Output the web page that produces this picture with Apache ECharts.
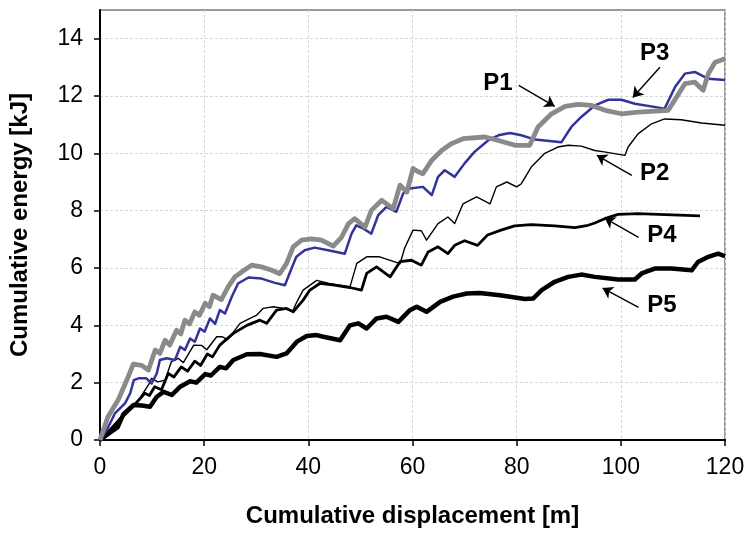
<!DOCTYPE html>
<html>
<head>
<meta charset="utf-8">
<script src="https://cdn.jsdelivr.net/npm/echarts@6/dist/echarts.min.js"></script>
<style>
    html, body { margin: 0; padding: 0; background: #fff; }
    #energyChart { width: 750px; height: 539px; }
</style>
</head>
<body>
<div id="energyChart"></div>
<script>
// cumulative energy vs displacement, five piles
const xTicks = [0, 20, 40, 60, 80, 100, 120];
const yTicks = [0, 2, 4, 6, 8, 10, 12, 14];

const p1 = [[0, 0], [1.5, 0.8], [3.5, 1.4], [5.4, 2.2], [6.4, 2.65], [8, 2.6], [9.3, 2.44],
    [10.6, 3.14], [11.5, 3.02], [12.5, 3.48], [13.4, 3.31], [14.7, 3.83], [15.5, 3.7],
    [16.3, 4.18], [17.2, 4.05], [18.2, 4.47], [19.1, 4.35], [20.2, 4.77], [21, 4.65],
    [21.7, 5.05], [23.3, 4.9], [24.6, 5.34], [25.9, 5.69], [27.2, 5.86], [29.1, 6.1],
    [31, 6.04], [33, 5.92], [34.5, 5.8], [35.8, 6.15], [37.1, 6.74], [38.7, 6.97],
    [40.6, 7.02], [42.5, 6.97], [44.8, 6.76], [46.4, 7.08], [47.7, 7.55], [48.9, 7.72],
    [50.9, 7.43], [52.1, 8.01], [54.1, 8.36], [56.3, 8.07], [57.6, 8.89], [58.9, 8.65],
    [60.1, 9.47], [61.1, 9.36], [62, 9.29], [63.7, 9.76], [65.6, 10.1], [67.5, 10.34],
    [69.7, 10.51], [73.9, 10.57], [76.5, 10.45], [79.7, 10.28], [82.5, 10.28], [84.1, 10.92],
    [86.7, 11.38], [89.3, 11.64], [91.8, 11.71], [94.4, 11.67], [97, 11.5], [100.1, 11.38],
    [103.3, 11.44], [109.1, 11.5], [110.7, 11.96], [112.3, 12.43], [114.2, 12.48],
    [115.8, 12.2], [116.8, 12.78], [118.1, 13.18], [120, 13.3]];

const p2 = [[0, 0], [2, 0.4], [4, 0.8], [6, 1.15], [7.4, 1.39], [9.3, 1.92], [9.9, 2.15],
    [11.1, 2.03], [12.5, 2.09], [13.7, 2.73], [15, 2.85], [16, 2.7], [18, 3.31], [19.5, 3.3],
    [20.5, 3.15], [22.4, 3.6], [23.5, 3.6], [24.5, 3.5], [26.9, 4.07], [28.8, 4.24],
    [30.1, 4.36], [31.3, 4.59], [33.3, 4.65], [35.2, 4.59], [37, 4.5], [37.8, 4.82],
    [39, 5.23], [41.6, 5.57], [44, 5.46], [48, 5.34], [49.3, 6.16], [51.2, 6.39],
    [53.7, 6.39], [57.6, 6.15], [58.5, 6.7], [60.1, 7.32], [61.7, 7.3], [62.7, 6.97],
    [64.9, 7.55], [66.8, 7.78], [68.1, 7.55], [69.7, 8.24], [72.3, 8.48], [74.9, 8.24],
    [76.1, 8.83], [78.1, 9.0], [80, 8.83], [80.9, 8.94], [82.8, 9.52], [85.4, 10.0],
    [87.9, 10.22], [89.9, 10.28], [92.4, 10.25], [95, 10.1], [96.8, 10.05], [100.8, 9.93],
    [101.4, 10.22], [103.3, 10.68], [105.9, 11.03], [108.4, 11.2], [111.6, 11.17],
    [115.5, 11.06], [120, 10.98]];

const p3 = [[0, 0], [1.3, 0.35], [2.9, 0.94], [4.8, 1.28], [5.8, 1.63], [6.5, 2.09],
    [7.4, 2.15], [8.9, 2.15], [9.9, 1.97], [10.9, 2.32], [11.5, 2.79], [12.8, 2.85],
    [14.4, 2.79], [15.4, 3.25], [16.3, 3.14], [17.3, 3.54], [18.2, 3.43], [19.2, 3.89],
    [20.1, 3.78], [21.1, 4.24], [22.1, 4.05], [23, 4.53], [24, 4.41], [25.3, 5.0],
    [26.5, 5.46], [28.5, 5.67], [31, 5.63], [33.6, 5.48], [35.5, 5.4], [36.5, 5.86],
    [37.7, 6.39], [39.3, 6.62], [41.2, 6.71], [43.8, 6.62], [47, 6.5], [48.3, 7.2],
    [49.2, 7.49], [50.5, 7.38], [52.1, 7.2], [53.4, 7.84], [55, 8.13], [56.9, 7.96],
    [58.2, 8.6], [59.5, 8.77], [62, 8.83], [63.7, 8.54], [64.9, 9.18], [66.2, 9.41],
    [68.1, 9.18], [70, 9.65], [71.9, 10.05], [74.5, 10.45], [76.5, 10.63], [78.7, 10.71],
    [80.9, 10.63], [83.5, 10.48], [88.6, 10.39], [90.5, 10.92], [92.4, 11.27], [95, 11.67],
    [97.6, 11.87], [100.1, 11.87], [102.7, 11.73], [108.4, 11.56], [110.4, 12.31],
    [112.3, 12.78], [114.2, 12.84], [116.8, 12.6], [120, 12.56]];

const p4 = [[0, 0], [2, 0.35], [4, 0.75], [6, 1.1], [8.6, 1.63], [9.5, 1.55], [10.5, 1.86],
    [11.8, 1.75], [13.1, 2.32], [14.2, 2.2], [15.6, 2.55], [16.8, 2.4], [18.2, 2.75],
    [19.3, 2.6], [20.6, 3.0], [21.6, 2.9], [23, 3.31], [25.6, 3.72], [28.2, 4.0],
    [30.7, 4.18], [32, 4.07], [33.9, 4.53], [35.8, 4.59], [37.1, 4.47], [39, 4.88],
    [40.3, 5.23], [42.2, 5.46], [45, 5.4], [48, 5.32], [50.2, 5.23], [51.2, 5.81],
    [53.1, 6.04], [55.7, 5.69], [57.6, 6.22], [59.8, 6.27], [61.7, 6.1], [63, 6.56],
    [64.9, 6.74], [66.8, 6.5], [68.1, 6.79], [70, 6.95], [72.5, 6.79], [74.4, 7.15],
    [77, 7.32], [79.6, 7.47], [82.8, 7.51], [87.3, 7.47], [91.2, 7.41], [93.7, 7.49],
    [95, 7.57], [96.9, 7.72], [99.5, 7.87], [103.3, 7.9], [107.2, 7.87], [115.2, 7.82]];

const p5 = [[0, 0], [1.5, 0.2], [3.4, 0.45], [4.5, 0.9], [6.4, 1.22], [8, 1.2], [9.6, 1.16],
    [10.9, 1.51], [12.2, 1.68], [13.8, 1.57], [15.4, 1.86], [17.3, 2.05], [18.5, 2.0],
    [20.2, 2.3], [21.3, 2.25], [23, 2.55], [24.2, 2.5], [25.6, 2.79], [28.2, 2.99],
    [30.7, 3.0], [33.9, 2.9], [35.8, 3.02], [37.8, 3.43], [39.7, 3.63], [41.6, 3.66],
    [42.9, 3.6], [46.1, 3.48], [48, 4.0], [49.6, 4.07], [51.2, 3.89], [53.1, 4.24],
    [55, 4.3], [57.3, 4.12], [59.5, 4.53], [60.8, 4.65], [62.7, 4.47], [65.3, 4.82],
    [67.8, 5.0], [70.4, 5.11], [72.9, 5.13], [76.8, 5.05], [81.6, 4.92], [83.2, 4.94],
    [84.8, 5.23], [87.3, 5.52], [89.9, 5.69], [92.4, 5.77], [95, 5.69], [99.5, 5.6],
    [102.7, 5.6], [104, 5.81], [106.5, 5.98], [109.7, 5.98], [113.6, 5.92], [114.8, 6.21],
    [116.8, 6.39], [118.7, 6.5], [120, 6.41]];

// labels with their arrows, in data units: [name, labelX, labelY, fromX, fromY, toX, toY]
const callouts = [
    ['P1', 76.4, 12.44, 80.4, 12.37, 87.3, 11.64],
    ['P3', 106.5, 13.48, 107.5, 13.0, 102.3, 11.95],
    ['P2', 106.5, 9.3, 102.1, 9.23, 95.4, 9.93],
    ['P4', 107.9, 7.14, 103.4, 7.07, 96.9, 7.74],
    ['P5', 107.9, 4.7, 103.4, 4.63, 96.5, 5.3],
];

const fontFam = '"Liberation Sans", Arial, sans-serif';

function lineSeries(name, data, color, width) {
    return {
        name: name,
        type: 'line',
        data: data,
        symbol: 'none',
        silent: true,
        animation: false,
        lineStyle: { color: color, width: width, join: 'round' },
    };
}

document.addEventListener('DOMContentLoaded', () => {
    const chart = echarts.init(document.getElementById('energyChart'));

    chart.setOption({
        backgroundColor: '#fff',
        animation: false,
        grid: {
            left: 100, right: 25, top: 10, bottom: 99,
            show: true, borderColor: '#9a9a9a', borderWidth: 2,
        },
        xAxis: {
            type: 'value',
            min: xTicks[0], max: xTicks[xTicks.length - 1], interval: 20,
            name: 'Cumulative displacement [m]',
            nameLocation: 'middle', nameGap: 64,
            nameTextStyle: { fontFamily: fontFam, fontWeight: 'bold', fontSize: 24, color: '#000' },
            axisLine: { onZero: false, lineStyle: { color: '#000', width: 2 } },
            axisTick: { inside: false, length: 6, lineStyle: { color: '#000', width: 1.5 } },
            axisLabel: { fontFamily: fontFam, fontSize: 23, color: '#000', margin: 16 },
            splitLine: { show: true, lineStyle: { color: '#d8d8d8', type: [3, 2], width: 1 } },
        },
        yAxis: {
            type: 'value',
            min: yTicks[0], max: 15, interval: 2,
            name: 'Cumulative energy [kJ]',
            nameLocation: 'middle', nameGap: 68, nameRotate: 90,
            nameTextStyle: { fontFamily: fontFam, fontWeight: 'bold', fontSize: 24, color: '#000' },
            axisLine: { onZero: false, lineStyle: { color: '#000', width: 2 } },
            axisTick: {
                inside: false, length: 6, customValues: yTicks,
                lineStyle: { color: '#000', width: 1.5 },
            },
            axisLabel: {
                fontFamily: fontFam, fontSize: 23, color: '#000', margin: 17,
                customValues: yTicks,
                formatter: v => (yTicks.indexOf(v) >= 0 ? String(v) : ''),
            },
            splitLine: { show: true, lineStyle: { color: '#d8d8d8', type: [3, 2], width: 1 } },
        },
        series: [
            lineSeries('P5', p5, '#000', 4.5),
            lineSeries('P4', p4, '#000', 2.8),
            lineSeries('P2', p2, '#000', 1.4),
            lineSeries('P3', p3, '#33339a', 2.5),
            lineSeries('P1', p1, '#8a8a8a', 4.8),
            {
                name: 'callouts',
                type: 'line',
                data: [],
                silent: true,
                animation: false,
                markLine: {
                    silent: true,
                    animation: false,
                    symbol: ['none', 'arrow'],
                    symbolSize: 10,
                    label: { show: false },
                    lineStyle: { color: '#000', width: 1.4, type: 'solid' },
                    data: callouts.map(c => [{ coord: [c[3], c[4]] }, { coord: [c[5], c[6]] }]),
                },
                markPoint: {
                    silent: true,
                    animation: false,
                    symbol: 'circle',
                    symbolSize: 1,
                    itemStyle: { color: 'rgba(0,0,0,0)' },
                    label: {
                        show: true, position: 'inside', formatter: '{b}',
                        fontFamily: fontFam, fontWeight: 'bold', fontSize: 24, color: '#000',
                    },
                    data: callouts.map(c => ({ name: c[0], coord: [c[1], c[2]] })),
                },
            },
        ],
    });
});
</script>
</body>
</html>
